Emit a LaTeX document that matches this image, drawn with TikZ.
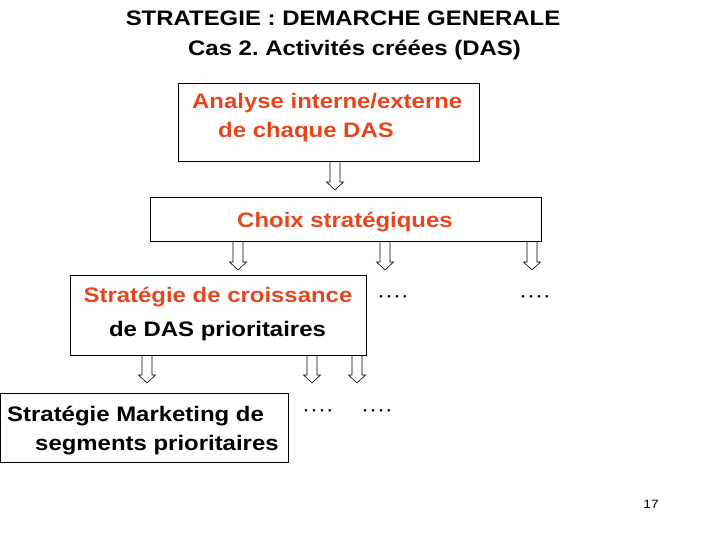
\documentclass[tikz,border=0pt]{standalone}
\usepackage{fontspec}
\setmainfont{Liberation Sans}[FakeStretch=1.14]
\usepackage{xcolor}
\usepackage{tikz}
\usetikzlibrary{positioning,calc}
\definecolor{StratRed}{HTML}{E6461E}
\frenchspacing

\tikzset{
  boxframe/.style={draw,line width=0.8pt,inner sep=0pt},
  boldtext/.style={font=\fontsize{21}{25}\selectfont\bfseries,inner sep=0pt},
  dotstext/.style={font=\fontsize{21}{25}\selectfont,inner sep=0pt},
  hollow/.style={draw,line width=0.6pt,line join=miter}
}
% hollow block arrow: shaft from the y of #1 down to the tip #2
\newcommand{\hollowarrow}[2]{%
  \draw[hollow] let \p1=(#1), \p2=(#2) in
    (\x2-5pt,\y1) -- (\x2-5pt,\y2+8pt) -- (\x2-8.5pt,\y2+8pt) -- (\x2,\y2)
    -- (\x2+8.5pt,\y2+8pt) -- (\x2+5pt,\y2+8pt) -- (\x2+5pt,\y1);}

\begin{document}
\begin{tikzpicture}[x=1pt,y=-1pt]
  \useasboundingbox (0,0) rectangle (720,540);
  % titles
  \node[boldtext,anchor=base] (title) at (343,26) {STRATEGIE : DEMARCHE GENERALE};
  \node[boldtext,anchor=base] (subtitle) at (354.5,56) {Cas 2. Activités créées (DAS)};

  % boxes
  \node[boxframe,minimum width=301pt,minimum height=78pt] (analyse) at (328.5,122) {};
  \node[boxframe,minimum width=391pt,minimum height=44pt] (choix) at (345.5,219) {};
  \node[boxframe,minimum width=296pt,minimum height=80pt] (croissance) at (218,315) {};
  \node[boxframe,minimum width=288pt,minimum height=69pt] (marketing) at (144,427.5) {};

  % box texts
  \node[boldtext,StratRed,anchor=base west] (analyse1) at (192,109) {Analyse interne/externe};
  \node[boldtext,StratRed,anchor=base west] (analyse2) at (218,138) {de chaque DAS};
  \node[boldtext,StratRed,anchor=base] (choixtxt) at (345,228) {Choix stratégiques};
  \node[boldtext,StratRed,anchor=base] (croissance1) at (218,302) {Stratégie de croissance};
  \node[boldtext,anchor=base] (croissance2) at (217.5,336) {de DAS prioritaires};
  \node[boldtext,anchor=base west] (marketing1) at (7,421) {Stratégie Marketing de};
  \node[boldtext,anchor=base west] (marketing2) at (35,450) {segments prioritaires};

  % other branches
  \node[dotstext,anchor=base] (dotsA) at (393,302) {····};
  \node[dotstext,anchor=base] (dotsB) at (535,302) {····};
  \node[dotstext,anchor=base] (dotsC) at (318,416) {····};
  \node[dotstext,anchor=base] (dotsD) at (377,416) {····};

  % arrows
  \coordinate (tipA) at (335,190);
  \hollowarrow{analyse.south}{tipA}
  \foreach \x [count=\i] in {238,385,532} {
    \coordinate (tipB\i) at (\x,270);
    \hollowarrow{choix.south}{tipB\i}
  }
  \foreach \x [count=\i] in {147,312,357} {
    \coordinate (tipC\i) at (\x,383);
    \hollowarrow{croissance.south}{tipC\i}
  }

  \node[font=\fontsize{12}{14}\selectfont,inner sep=0pt,anchor=base] (page) at (651,508) {17};
\end{tikzpicture}
\end{document}
